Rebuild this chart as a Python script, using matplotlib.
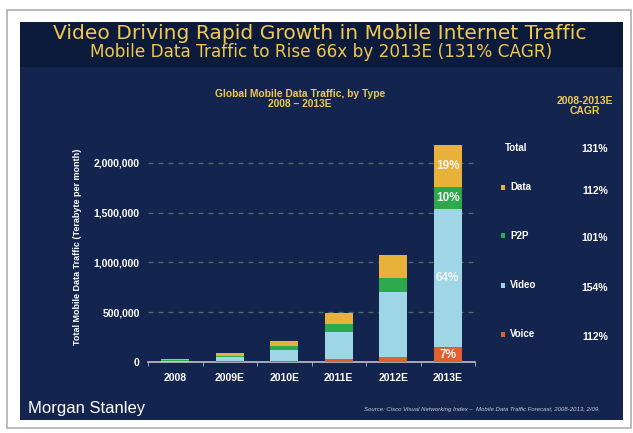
import matplotlib
matplotlib.use("Agg")
import matplotlib.pyplot as plt
from matplotlib.patches import Rectangle
import numpy as np

years = ["2008", "2009E", "2010E", "2011E", "2012E", "2013E"]
voice = [3000, 8000, 15000, 30000, 50000, 150000]
video = [12000, 40000, 105000, 270000, 650000, 1390000]
p2p = [8000, 15000, 36000, 80000, 140000, 220000]
data = [10000, 27000, 55000, 112000, 235000, 420000]
series_names = ["Voice", "Video", "P2P", "Data"]
series_colors = ["#E0602E", "#9FD6E6", "#2DA84C", "#E8B23A"]
pct_2013 = ["7%", "64%", "10%", "19%"]
cagr_labels = ["Total", "Data", "P2P", "Video", "Voice"]
cagr_values = ["131%", "112%", "101%", "154%", "112%"]
yticks = [0, 500000, 1000000, 1500000, 2000000]

W, H = 633, 433
fig = plt.figure(figsize=(W / 100, H / 100), dpi=100)
fig.patch.set_facecolor("white")

def px(x, y):
    return x / W, 1 - y / H

# frame
frame = Rectangle(px(7, 428), (631 - 7) / W, (428 - 10) / H, transform=fig.transFigure,
                  facecolor="white", edgecolor="#B0B0B0", lw=1.2, zorder=-3)
fig.patches.append(frame)
panel = Rectangle(px(20, 420), (623 - 20) / W, (420 - 22) / H, transform=fig.transFigure,
                  facecolor="#13254F", edgecolor="none", zorder=-2)
fig.patches.append(panel)
band = Rectangle(px(20, 67), (623 - 20) / W, (67 - 22) / H, transform=fig.transFigure,
                 facecolor="#0C1A3C", edgecolor="none", zorder=-1)
fig.patches.append(band)

gold = "#F0C850"
fig.text(*px(320, 39), "Video Driving Rapid Growth in Mobile Internet Traffic",
         color=gold, fontsize=14.6, ha="center", va="baseline", family="DejaVu Sans")
fig.text(*px(321, 57), "Mobile Data Traffic to Rise 66x by 2013E (131% CAGR)",
         color=gold, fontsize=12.2, ha="center", va="baseline", family="DejaVu Sans")
fig.text(*px(300, 99), "Global Mobile Data Traffic, by Type\n2008 – 2013E",
         color=gold, fontsize=7.4, ha="center", va="center", fontweight="bold",
         family="Liberation Sans", linespacing=1.1)
fig.text(*px(585, 106), "2008-2013E\nCAGR", color=gold, fontsize=7.5, ha="center",
         va="center", fontweight="bold", family="Liberation Sans", linespacing=1.1)

ax = fig.add_axes([148 / W, (433 - 362) / H, 327 / W, 224 / H])
ax.set_zorder(2)
ax.set_facecolor("none")
x = np.arange(len(years))
bottom = np.zeros(len(years))
vals = [voice, video, p2p, data]
for name, v, c in zip(series_names, vals, series_colors):
    ax.bar(x, v, width=0.52, bottom=bottom, color=c, edgecolor="none", zorder=3, label=name)
    bottom = bottom + np.array(v)

# percent labels on last bar
b = 0
for v, t in zip(vals, pct_2013):
    val = v[-1]
    ax.text(x[-1], b + val / 2, t, color="#F4F4F4", fontsize=8.5, fontweight="bold",
            ha="center", va="center", zorder=4, family="Liberation Sans")
    b += val

ax.set_xlim(-0.5, 5.5)
ax.set_ylim(0, 2250000)
ax.set_yticks(yticks)
ax.set_yticklabels([f"{t:,}" for t in yticks])
ax.set_xticks(x)
ax.set_xticklabels(years)
ax.set_xticks(np.arange(-0.5, 6, 1), minor=True)
ax.tick_params(axis="x", which="major", length=0, pad=8, colors="white", labelsize=7.5)
ax.tick_params(axis="x", which="minor", length=3, color="#B8B8C8", direction="out")
ax.tick_params(axis="y", length=0, pad=6, colors="white", labelsize=7.5)
for lab in ax.get_xticklabels() + ax.get_yticklabels():
    lab.set_fontweight("bold")
    lab.set_family("Liberation Sans")
for s in ["top", "right", "left"]:
    ax.spines[s].set_visible(False)
ax.spines["bottom"].set_color("#C0C0CC")
ax.spines["bottom"].set_linewidth(1.2)
ax.yaxis.grid(True, linestyle=(0, (4, 4)), color="#50705E", lw=0.9, zorder=1)
ax.set_axisbelow(True)
for gl in ax.yaxis.get_gridlines()[:1]:
    gl.set_visible(False)

fig.text(*px(77, 247), "Total Mobile Data Traffic (Terabyte per month)", color="white",
         fontsize=6.5, rotation=90, ha="center", va="center", fontweight="bold",
         family="Liberation Sans")

# CAGR table
rows_y = [148, 187, 236, 285, 334]
val_y = [149, 191, 238, 288, 337]
legend_colors = [None, series_colors[3], series_colors[2], series_colors[1], series_colors[0]]
for lab, val, ly, vy, c in zip(cagr_labels, cagr_values, rows_y, val_y, legend_colors):
    if c is None:
        fig.text(*px(505, ly), lab, color="white", fontsize=7, fontweight="bold",
                 ha="left", va="center", family="Liberation Sans")
    else:
        fig.patches.append(Rectangle(px(501, ly + 2.5), 4 / W, 5 / H, transform=fig.transFigure,
                                     facecolor=c, edgecolor="none", zorder=2))
        fig.text(*px(510, ly), lab, color="white", fontsize=7, fontweight="bold",
                 ha="left", va="center", family="Liberation Sans")
    fig.text(*px(595, vy), val, color="white", fontsize=7.5, fontweight="bold",
             ha="center", va="center", family="Liberation Sans")

fig.text(*px(28, 413), "Morgan Stanley", color="white", fontsize=12,
         ha="left", va="baseline", family="Liberation Sans")
fig.text(*px(600, 409), "Source: Cisco Visual Networking Index –  Mobile Data Traffic Forecast, 2008-2013, 2/09.",
         color="#C8CCDA", fontsize=4.3, style="italic", ha="right", va="center",
         family="Liberation Sans")

fig.savefig("out.png", dpi=100, facecolor="white")
